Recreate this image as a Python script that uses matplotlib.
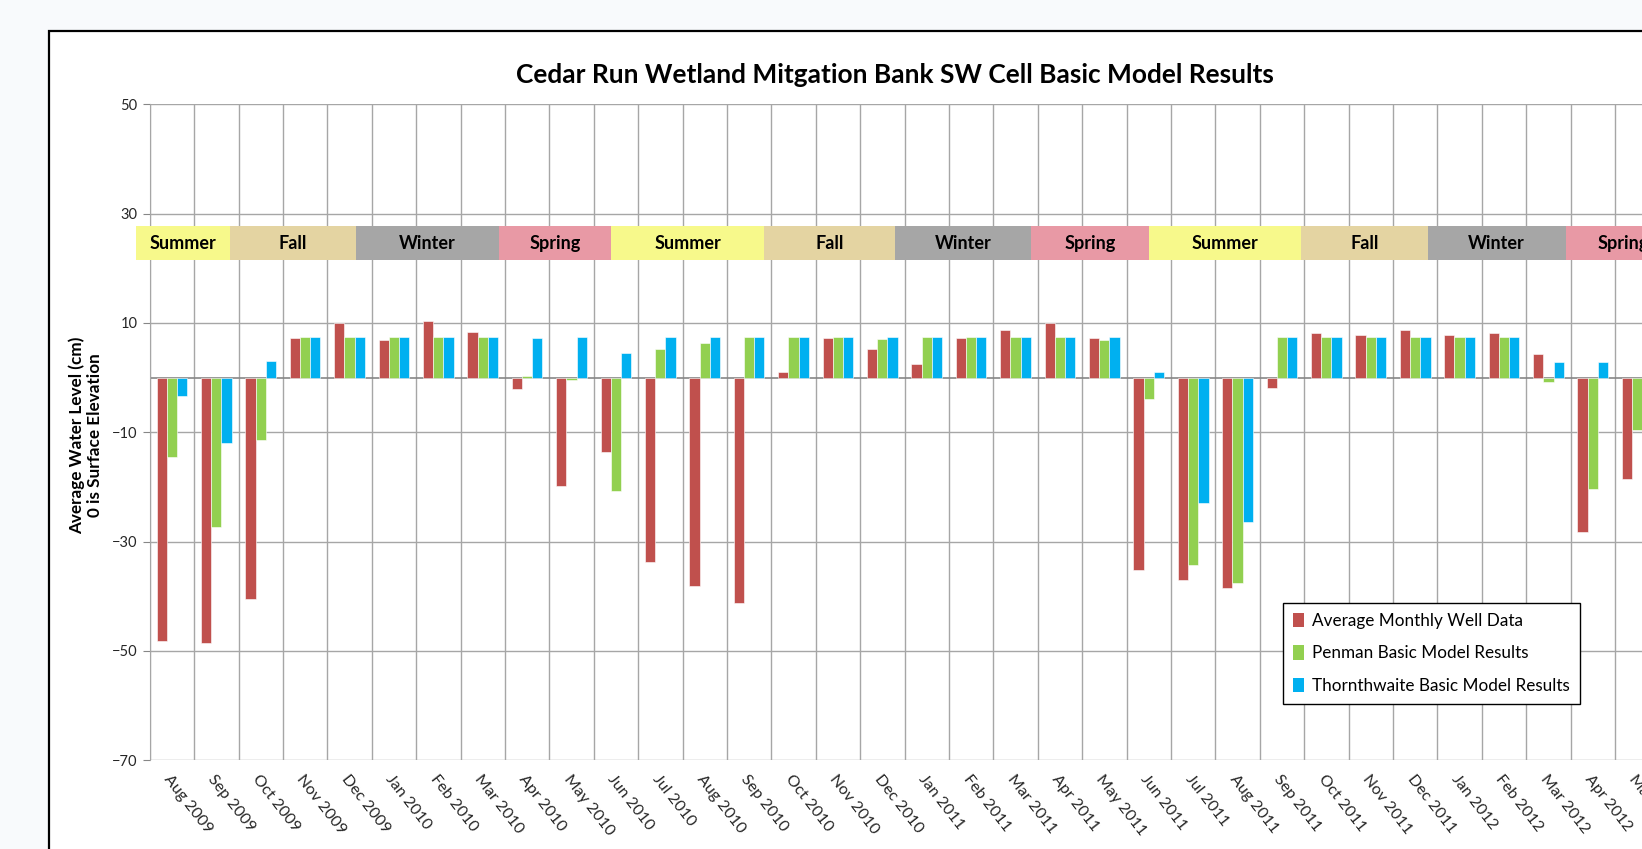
import numpy as np
import matplotlib
matplotlib.use("Agg")
import matplotlib.pyplot as plt
from matplotlib.patches import Rectangle, Patch

plt.rcParams['font.family'] = ['Lato', 'DejaVu Sans']

# monthly categories (chart is cropped after May 2012)
months = ["Aug 2009", "Sep 2009", "Oct 2009", "Nov 2009", "Dec 2009",
          "Jan 2010", "Feb 2010", "Mar 2010", "Apr 2010", "May 2010",
          "Jun 2010", "Jul 2010", "Aug 2010", "Sep 2010", "Oct 2010",
          "Nov 2010", "Dec 2010", "Jan 2011", "Feb 2011", "Mar 2011",
          "Apr 2011", "May 2011", "Jun 2011", "Jul 2011", "Aug 2011",
          "Sep 2011", "Oct 2011", "Nov 2011", "Dec 2011", "Jan 2012",
          "Feb 2012", "Mar 2012", "Apr 2012", "May 2012"]

well = [-48.2, -48.5, -40.5, 7.2, 10.0, 6.8, 10.3, 8.4, -2.1, -19.9,
        -13.6, -33.7, -38.1, -41.3, 1.0, 7.2, 5.3, 2.5, 7.2, 8.6,
        10.0, 7.2, -35.3, -37.1, -38.5, -2.0, 8.2, 7.8, 8.7, 7.8,
        8.2, 4.3, -28.2, -18.6]
penman = [-14.5, -27.4, -11.4, 7.5, 7.5, 7.5, 7.5, 7.5, 0.2, -0.5,
          -20.8, 5.3, 6.4, 7.5, 7.5, 7.5, 7.0, 7.5, 7.5, 7.5,
          7.5, 6.8, -4.0, -34.3, -37.6, 7.5, 7.5, 7.5, 7.5, 7.5,
          7.5, -0.9, -20.4, -9.6]
thorn = [-3.4, -11.9, 3.1, 7.5, 7.5, 7.5, 7.5, 7.5, 7.3, 7.5,
         4.4, 7.5, 7.5, 7.5, 7.5, 7.5, 7.5, 7.5, 7.5, 7.5,
         7.5, 7.5, 1.0, -22.9, -26.4, 7.5, 7.5, 7.5, 7.5, 7.5,
         7.5, 2.8, 2.8, np.nan]

series_names = ["Average Monthly Well Data", "Penman Basic Model Results",
                "Thornthwaite Basic Model Results"]
series_colors = ["#C0504D", "#92D050", "#00B0F0"]

seasons = ["Summer", "Fall", "Winter", "Spring", "Summer", "Fall", "Winter",
           "Spring", "Summer", "Fall", "Winter", "Spring"]
season_colors = {"Summer": "#F7F98B", "Fall": "#E4D4A2",
                 "Winter": "#A6A6A6", "Spring": "#E899A5"}
# band boundaries in category units (the overlay shapes in the original)
band_edges = [-0.81, 1.31, 4.14, 7.36, 9.88, 13.34, 16.28, 19.34,
              22.0, 25.43, 28.28, 31.39, 33.97]

fig = plt.figure(figsize=(16.42, 8.49), dpi=100)
fig.patch.set_facecolor("#F8FAFC")

# white chart area with black frame, running off the right/bottom edge
fig.add_artist(Rectangle((49 / 1642, -0.2), 1.2, 0.963 + 0.2,
                         transform=fig.transFigure, facecolor="white",
                         edgecolor="black", lw=1.6, zorder=-10))

ax = fig.add_axes([0.0912, 0.1046, 0.9194, 0.7727])
ax.set_facecolor("white")

x = np.arange(len(months))
w = 0.23
for i, (vals, col, name) in enumerate(zip([well, penman, thorn], series_colors, series_names)):
    ax.bar(x + (i - 1) * w, vals, w, color=col, edgecolor="#FFFFFF",
           linewidth=0.4, zorder=2, label=name)

ax.set_xlim(-0.5, len(months) - 0.5)
ax.set_ylim(-70, 50)
ax.set_yticks(np.arange(-70, 51, 20))
ax.set_xticks(x)
ax.set_xticklabels(months, rotation=-52, ha="left", va="top",
                   rotation_mode="anchor", fontsize=11.5, color="#262626")
ax.set_xticks(x[:-1] + 0.5, minor=True)
ax.tick_params(axis="x", which="both", length=0, pad=9)
ax.tick_params(axis="y", length=5, color="#868686", labelsize=10.5,
               labelcolor="#262626", pad=4)

ax.set_axisbelow(True)
ax.grid(axis="y", color="#A6A6A6", lw=1)
ax.grid(axis="x", which="minor", color="#A6A6A6", lw=1)
ax.axvline(-0.5, color="#A6A6A6", lw=1, zorder=1)
ax.axhline(0, color="#868686", lw=1.2, zorder=1.5)
for s in ["top", "right", "bottom"]:
    ax.spines[s].set_visible(False)
ax.spines["left"].set_color("#A6A6A6")

# season band
for name, x0, x1 in zip(seasons, band_edges[:-1], band_edges[1:]):
    ax.add_patch(Rectangle((x0, 21.5), x1 - x0, 6.3, facecolor=season_colors[name],
                           edgecolor="none", zorder=4, clip_on=False))
    ax.text((x0 + x1) / 2, 24.6, name, ha="center", va="center",
            fontsize=13, fontweight="bold", color="black", zorder=5, clip_on=False)

fig.text(0.5453, 0.9112, "Cedar Run Wetland Mitgation Bank SW Cell Basic Model Results",
         ha="center", va="center", fontsize=18.9, fontweight="bold")
fig.text(0.0523, 0.487, "Average Water Level (cm)\n0 is Surface Elevation",
         rotation=90, ha="center", va="center", multialignment="center",
         fontsize=12.3, fontweight="bold", linespacing=1.15)

handles = [Patch(facecolor=c, edgecolor="none") for c in series_colors]
leg = fig.legend(handles, series_names, loc="upper left",
                 bbox_to_anchor=(0.7814, 0.2898), bbox_transform=fig.transFigure,
                 borderaxespad=0, fontsize=12.3, frameon=True, fancybox=False,
                 framealpha=1, edgecolor="black", handlelength=0.6,
                 handleheight=0.9, handletextpad=0.5, labelspacing=0.95,
                 borderpad=0.6)
leg.get_frame().set_linewidth(1)

fig.savefig("out.png", dpi=100, facecolor=fig.get_facecolor())
